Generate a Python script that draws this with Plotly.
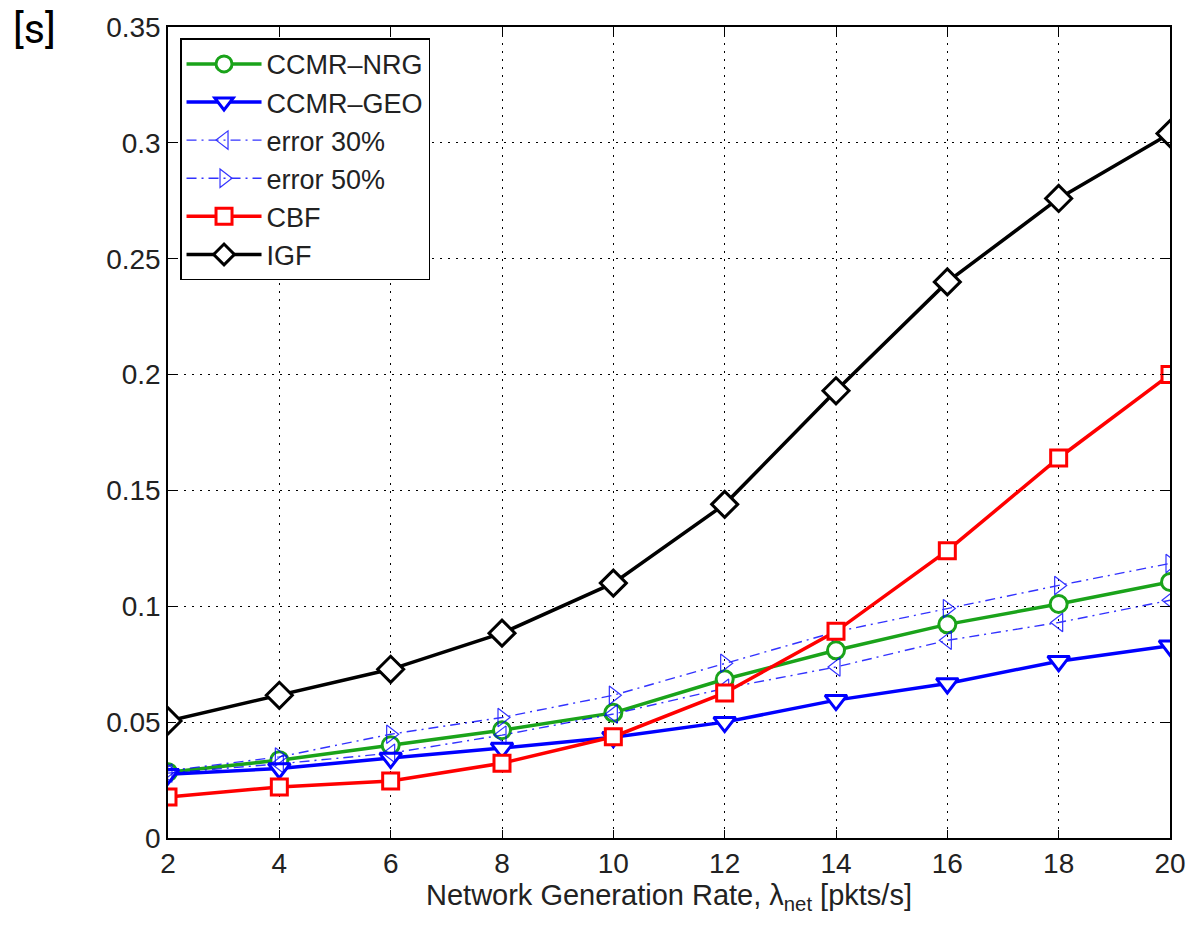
import plotly.graph_objects as go

x_rate = [2, 4, 6, 8, 10, 12, 14, 16, 18, 20]

ccmr_nrg = [0.0284, 0.0336, 0.0400, 0.0465, 0.0540, 0.0685, 0.0810, 0.0922, 0.1010, 0.1105]
ccmr_geo = [0.0275, 0.0300, 0.0345, 0.0388, 0.0435, 0.0500, 0.0595, 0.0667, 0.0763, 0.0830]
error_30 = [0.0280, 0.0320, 0.0366, 0.0444, 0.0535, 0.0646, 0.0738, 0.0853, 0.0930, 0.1026]
error_50 = [0.0290, 0.0350, 0.0448, 0.0520, 0.0616, 0.0754, 0.0890, 0.0990, 0.1090, 0.1185]
cbf = [0.0177, 0.0220, 0.0246, 0.0323, 0.0437, 0.0626, 0.0892, 0.1240, 0.1640, 0.2000]
igf = [0.0505, 0.0616, 0.0728, 0.0884, 0.1100, 0.1440, 0.1930, 0.2400, 0.2760, 0.3040]

x_ticks = [2, 4, 6, 8, 10, 12, 14, 16, 18, 20]
y_ticks = [0, 0.05, 0.1, 0.15, 0.2, 0.25, 0.3, 0.35]
y_tick_text = ["0", "0.05", "0.1", "0.15", "0.2", "0.25", "0.3", "0.35"]

GREEN = "#1aa31a"
BLUE = "#0000ff"
RED = "#ff0000"
BLACK = "#000000"
FONT = "Liberation Sans, Arial, sans-serif"

fig = go.Figure()

def main_trace(y, name, color, symbol, size):
    fig.add_trace(go.Scatter(
        x=x_rate, y=y, name=name, mode="lines+markers",
        line=dict(color=color, width=3.5),
        marker=dict(symbol=symbol, size=size, color="white",
                    line=dict(color=color, width=3)),
    ))

def err_trace(y, name, symbol):
    fig.add_trace(go.Scatter(
        x=x_rate, y=y, name=name, mode="lines+markers",
        line=dict(color=BLUE, width=1.4, dash="10px,5px,2px,5px"),
        marker=dict(symbol=symbol, size=16, color=BLUE,
                    line=dict(color=BLUE, width=1.2)),
        opacity=0.8,
    ))

main_trace(ccmr_nrg, "CCMR\u2013NRG", GREEN, "circle", 17)
main_trace(ccmr_geo, "CCMR\u2013GEO", BLUE, "triangle-down", 19)
err_trace(error_30, "error 30%", "triangle-left-open")
err_trace(error_50, "error 50%", "triangle-right-open")
main_trace(cbf, "CBF", RED, "square", 16)
main_trace(igf, "IGF", BLACK, "diamond", 20)

axis_common = dict(
    showline=True, linecolor="black", linewidth=1.5, mirror="ticks",
    ticks="inside", ticklen=8, tickwidth=1.2, tickcolor="black",
    showgrid=True, gridcolor="black", gridwidth=1.2, griddash="2px,6px",
    zeroline=False, automargin=False,
    tickfont=dict(family=FONT, size=28, color="#222"),
)

fig.update_xaxes(range=[2, 20], tickvals=x_ticks, **axis_common,
                 title=dict(text="Network Generation Rate, \u03bb<sub>net</sub> [pkts/s]",
                            font=dict(family=FONT, size=29, color="#222"), standoff=4))
fig.update_yaxes(range=[0, 0.35], tickvals=y_ticks, ticktext=y_tick_text, **axis_common)

fig.add_annotation(text="[s]", xref="paper", yref="paper", x=-0.157, y=1.03,
                   xanchor="left", yanchor="top", showarrow=False,
                   font=dict(family="Roboto", size=41, color="black"))

fig.update_layout(
    width=1192, height=928,
    margin=dict(l=168, r=22, t=27, b=90),
    plot_bgcolor="white", paper_bgcolor="white",
    legend=dict(x=0.012, y=0.986, xanchor="left", yanchor="top",
                bordercolor="black", borderwidth=1.5, bgcolor="white",
                font=dict(family=FONT, size=27, color="#222"),
                itemwidth=75, tracegroupgap=0,
                entrywidth=200, entrywidthmode="pixels"),
    showlegend=True,
)

fig.write_html("out.html")
